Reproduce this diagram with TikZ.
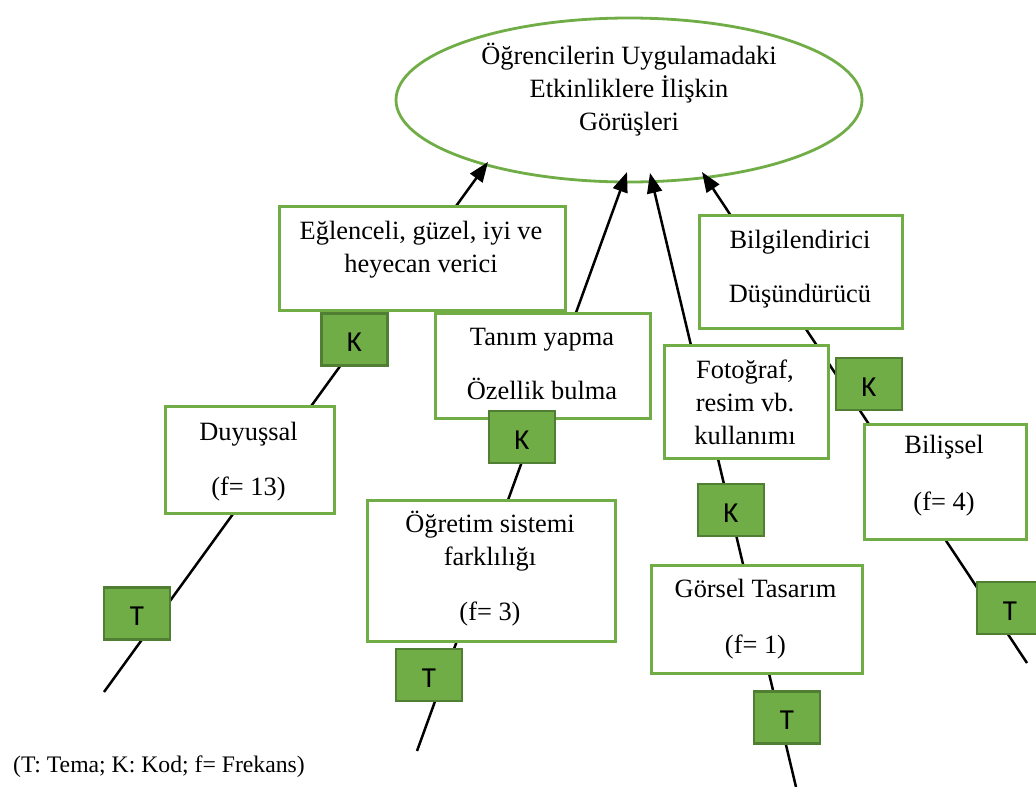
\documentclass[tikz,border=0pt]{standalone}
\usepackage{fontspec}
\setmainfont{Liberation Serif}
\newfontfamily\tagfont{Carlito}
\usetikzlibrary{shapes.geometric,arrows.meta}
\definecolor{ogreen}{HTML}{70AD47}
\definecolor{dgreen}{HTML}{507E32}
\tikzset{
  themebox/.style={rectangle, draw=ogreen, line width=2.5pt, fill=white,
    inner sep=0pt, anchor=north west},
  tagbox/.style={rectangle, draw=dgreen, line width=2.5pt, fill=ogreen,
    inner sep=0pt, minimum width=66pt, minimum height=52pt,
    font=\tagfont\fontsize{29}{34}\selectfont, text height=24pt, text depth=0pt},
  txt/.style={anchor=base, inner sep=0pt, font=\fontsize{26.4}{33}\selectfont},
  link/.style={line width=2.5pt, -{Triangle[length=20pt,width=15pt]}},
}
% one text line of a box, placed by its baseline
\newcommand\tline[3]{\node[txt] (#1) at (#2) {#3};}
\begin{document}
\begin{tikzpicture}[x=1pt,y=-1pt]
\useasboundingbox (0,0) rectangle (1036,787);
\clip (0,0) rectangle (1036,787);

% central topic
\node[ellipse, draw=ogreen, line width=2.8pt, fill=white, inner sep=0pt,
      minimum width=466pt, minimum height=164pt] (goal) at (629,100) {};
\tline{g1}{629,64}{Öğrencilerin Uygulamadaki}
\tline{g2}{629,97}{Etkinliklere İlişkin}
\tline{g3}{629,130}{Görüşleri}

% free ends and arrow heads of the four chains
\coordinate (s1) at (104,692);  \coordinate (h1) at (488,162);
\coordinate (s2) at (417,751);  \coordinate (h2) at (627,172);
\coordinate (s3) at (796,787);  \coordinate (h3) at (650,173);
\coordinate (s4) at (1027,663); \coordinate (h4) at (702,172);
\draw[link] (s1) -- (h1);
\draw[link] (s2) -- (h2);
\draw[link] (s3) -- (h3);
\draw[link] (s4) -- (h4);

% code boxes
\node[themebox, minimum width=286pt, minimum height=104pt] (eg) at (278,205) {};
\tline{eg1}{421,239}{Eğlenceli, güzel, iyi ve}
\tline{eg2}{421,272}{heyecan verici}

\node[themebox, minimum width=215pt, minimum height=105pt] (ta) at (434,312) {};
\tline{ta1}{542,345}{Tanım yapma}
\tline{ta2}{542,399}{Özellik bulma}

\node[themebox, minimum width=203pt, minimum height=113pt] (bi) at (698,214) {};
\tline{bi1}{800,248}{Bilgilendirici}
\tline{bi2}{800,302}{Düşündürücü}

\node[themebox, minimum width=164pt, minimum height=113pt] (fo) at (663,344) {};
\tline{fo1}{745,378}{Fotoğraf,}
\tline{fo2}{745,411}{resim vb.}
\tline{fo3}{745,444}{kullanımı}

% theme boxes
\node[themebox, minimum width=169pt, minimum height=107pt] (du) at (164,405) {};
\tline{du1}{248.5,440}{Duyuşsal}
\tline{du2}{248.5,495}{(f= 13)}

\node[themebox, minimum width=248pt, minimum height=141pt] (og) at (366,499) {};
\tline{og1}{490,532}{Öğretim sistemi}
\tline{og2}{490,565}{farklılığı}
\tline{og3}{490,620}{(f= 3)}

\node[themebox, minimum width=211pt, minimum height=108pt] (go) at (650,564) {};
\tline{go1}{755.5,597}{Görsel Tasarım}
\tline{go2}{755.5,653}{(f= 1)}

\node[themebox, minimum width=162pt, minimum height=115pt] (bl) at (863,423) {};
\tline{bl1}{944,453}{Bilişsel}
\tline{bl2}{944,510}{(f= 4)}

% K and T markers
\node[tagbox] (k1) at (354.5,339.5) {K};
\node[tagbox] (k2) at (522,437) {K};
\node[tagbox] (k3) at (869,384) {K};
\node[tagbox] (k4) at (731,510) {K};
\node[tagbox] (t1) at (137,613.5) {T};
\node[tagbox] (t2) at (429,675) {T};
\node[tagbox] (t3) at (787,717.5) {T};
\node[tagbox] (t4) at (1010,608) {T};

% key
\node[anchor=base west, inner sep=0pt, font=\fontsize{23.7}{28}\selectfont]
  (key) at (13,772) {(T: Tema; K: Kod; f= Frekans)};
\end{tikzpicture}
\end{document}
